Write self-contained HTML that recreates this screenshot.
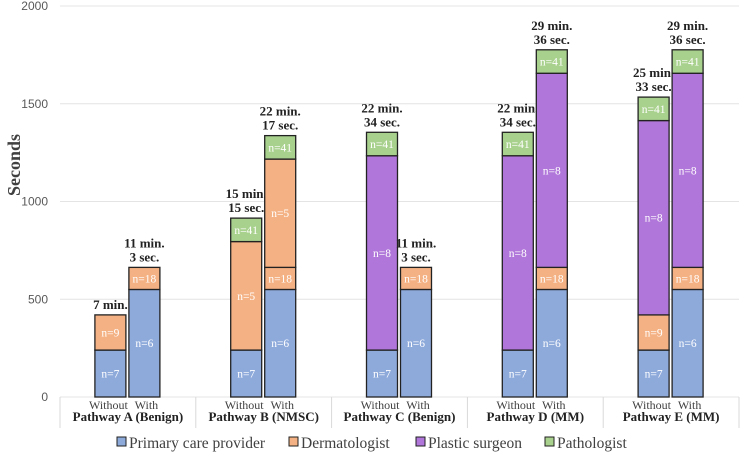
<!DOCTYPE html>
<html><head><meta charset="utf-8"><style>
body{margin:0;background:#fff;}
svg{display:block;}
</style></head><body>
<svg id="c" width="742" height="453" font-family="'Liberation Serif', 'DejaVu Serif', serif"></svg>
<script>
const groups=["Pathway A (Benign)","Pathway B (NMSC)","Pathway C (Benign)","Pathway D (MM)","Pathway E (MM)"];
const subLabels=["Without","With"];
const seriesNames=["Primary care provider","Dermatologist","Plastic surgeon","Pathologist"];
const seriesColors=["#8eaadb","#f4b183","#f4b183","#b076d9","#a9d18e"];
const legendColors=["#8eaadb","#f4b183","#b076d9","#a9d18e"];
// per bar (A-without, A-with, B-without, ...): stack order pcp, derm, derm2, plastic, path
const pcp=[240,550,240,550,240,550,240,550,240,550];
const derm=[180,113,555,113,0,113,0,113,180,113];
const derm2=[0,0,0,554,0,0,0,0,0,0];
const plastic=[0,0,0,0,994,0,994,993,994,993];
const patho=[0,0,120,120,120,0,120,120,120,120];
const nLabels=[["n=7","n=9","","",""],["n=6","n=18","","",""],["n=7","n=5","","","n=41"],["n=6","n=18","n=5","","n=41"],["n=7","","","n=8","n=41"],["n=6","n=18","","",""],["n=7","","","n=8","n=41"],["n=6","n=18","","n=8","n=41"],["n=7","n=9","","n=8","n=41"],["n=6","n=18","","n=8","n=41"]];
const totals=[["7 min."],["11 min.","3 sec."],["15 min.","15 sec."],["22 min.","17 sec."],["22 min.","34 sec."],["11 min.","3 sec."],["22 min.","34 sec."],["29 min.","36 sec."],["25 min.","33 sec."],["29 min.","36 sec."]];
const yTicks=[0,500,1000,1500,2000];
const NS="http://www.w3.org/2000/svg";
const svg=document.getElementById('c');
const x0=60,x1=739,yBase=397,yTop=6,yMax=2000;
const y=v=>yBase-(v/yMax)*(yBase-yTop);
const gw=(x1-x0)/groups.length;
const SERIF="'Liberation Serif', 'DejaVu Serif', serif";
function el(t,a,txt){const e=document.createElementNS(NS,t);if(t==='text'&&!a['font-family'])e.setAttribute('font-family',SERIF);for(const k in a)e.setAttribute(k,a[k]);if(txt!==undefined)e.textContent=txt;svg.appendChild(e);return e;}
yTicks.forEach(v=>{
 const l=el('line',{x1:x0,x2:x1,y1:y(v),y2:y(v),stroke:'#e4e4e4','stroke-width':1});
 
 
 const t=el('text',{x:48,y:y(v)+4,'text-anchor':'end','font-size':12,fill:'#595959','font-family':"'Liberation Sans', sans-serif"},v);
 
 
});
const yt=el('text',{x:0,y:0,'font-size':18,'font-weight':'bold',fill:'#404040','text-anchor':'middle',transform:'translate(20,165) rotate(-90)'},'Seconds');


for(let g=0;g<=groups.length;g++){
 const sx=x0+g*gw;
 const s=el('line',{x1:sx,x2:sx,y1:yBase,y2:428,stroke:'#d9d9d9','stroke-width':1});
 
 
}
groups.forEach((gname,g)=>{
 const cx=x0+g*gw+gw/2;
 const gl=el('text',{x:cx,y:421,'text-anchor':'middle','font-size':13,'font-weight':'bold',fill:'#222'},gname);
 
 
 subLabels.forEach((sl,k)=>{
  const i=g*2+k;
  const bx=k===0?cx-33:cx+1, bw=31;
  const bc=bx+bw/2;
  const st=el('text',{x:k===0?bc-2:bc+2,y:409,'text-anchor':'middle','font-size':12,fill:'#404040'},sl);
  
  
  const vals=[pcp[i],derm[i],derm2[i],plastic[i],patho[i]];
  let acc=0;
  vals.forEach((v,s)=>{
   if(v<=0)return;
   const top=y(acc+v),bot=y(acc);
   const r=el('rect',{x:bx,y:top,width:bw,height:bot-top,fill:seriesColors[s],stroke:'#222','stroke-width':1.3});
   
   
   if(nLabels[i][s]){
    const t=el('text',{x:bc,y:(top+bot)/2+4,'text-anchor':'middle','font-size':11.5,fill:'#fff'},nLabels[i][s]);
    
    
   }
   acc+=v;
  });
  const lines=totals[i];
  lines.forEach((ln,j)=>{
   const t=el('text',{x:bc,y:y(acc)-6-(lines.length-1-j)*14,'text-anchor':'middle','font-size':13,'font-weight':'bold',fill:'#222'},ln);
   
   
  });
 });
});
const legX=[117,289,416,545];
seriesNames.forEach((n,s)=>{
 const r=el('rect',{x:legX[s],y:437,width:9,height:9,fill:legendColors[s],stroke:'#222','stroke-width':1});
 
 
 const t=el('text',{x:legX[s]+12,y:448,'font-size':15.5,fill:'#404040'},n);
 
 
});
</script>
</body></html>
